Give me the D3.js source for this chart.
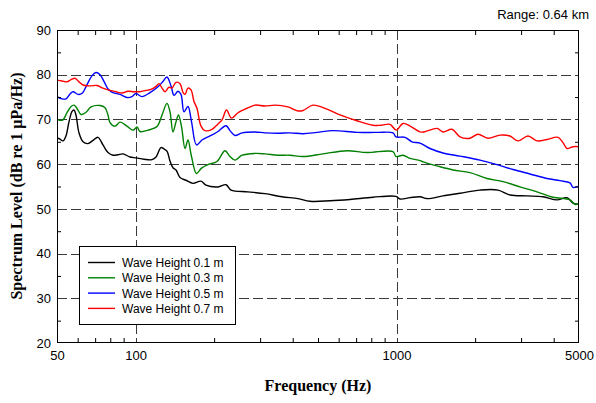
<!DOCTYPE html>
<html>
<head>
<meta charset="utf-8">
<script src="https://cdn.jsdelivr.net/npm/d3@7"></script>
<style>
  body { margin: 0; background: #fff; }
  svg { display: block; }
</style>
</head>
<body>
<svg id="chart" width="596" height="403"></svg>
<script>
// ---------- data ----------
const seriesNames = ["Wave Height 0.1 m", "Wave Height 0.3 m", "Wave Height 0.5 m", "Wave Height 0.7 m"];
const seriesColors = ["#000000", "#008000", "#0000ff", "#ff0000"];

const freq01 = [50,51.3,52.7,54.1,55.6,57.1,58.1,59.1,60.7,62.9,65.7,68.7,71.8,75.0,78.4,81.9,85.6,89.5,95.2,100.4,107.7,115.6,119.8,125.1,128.5,131.9,135.5,139.1,142.9,148.0,156.0,166.0,178.1,186.1,206.9,222.1,232.1,269.6,313.2,363.9,419.2,465.9,555.8,663.1,812.2,995,1031,1126,1230,1308,1506,1750,2088,2447,2720,3160,3639,4118,4498,4742,5000];
const level01 = [65.9,65.6,65.2,66.3,69.5,71.8,72.1,71.0,67.0,65.0,64.6,65.3,66.0,64.3,62.6,62.0,62.1,62.3,61.6,61.4,61.1,61.0,61.6,63.7,63.4,62.9,60.7,59.2,58.7,57.0,56.4,55.7,56.2,55.3,54.9,55.4,54.2,53.8,53.4,52.7,52.3,51.7,51.8,52.1,52.6,52.8,52.2,52.5,52.7,52.3,52.9,53.5,54.2,54.2,53.1,52.9,52.7,52.0,52.5,51.3,51.0];

const freq03 = [50,51.3,52.7,54.6,56.6,58.1,59.6,61.8,64.6,67.5,73.1,76.4,78.4,79.8,83.4,87.2,92.7,97.8,101.3,104.0,111.6,120.8,126.3,131.9,135.5,139.1,142.9,146.0,150.0,154.7,158.8,163.8,171.2,178.9,189.5,205.1,220.1,230.0,240.4,255.7,286.7,313.2,351.4,390.6,438.1,522.4,645.8,770.3,969,995,1058,1126,1230,1263,1429,1645,1911,2221,2557,2971,3452,3975,4618,4827,5000];
const level03 = [70.0,69.8,69.9,71.5,72.9,73.2,72.5,71.1,71.6,72.8,73.1,72.6,71.0,69.3,68.5,69.4,68.5,67.6,68.3,67.3,67.6,68.4,71.0,73.6,71.7,67.2,69.5,71.0,68.4,63.5,65.4,61.7,57.9,59.1,59.9,60.6,63.0,61.7,60.9,62.0,62.4,62.3,62.0,62.0,61.7,62.3,63.0,62.6,62.8,61.7,62.0,61.3,60.8,60.5,59.6,58.7,58.1,56.8,56.1,54.9,53.8,52.6,52.0,51.0,51.2];

const freq05 = [50,52.3,54.1,56.1,57.6,60.2,62.3,65.2,68.1,70.5,73.1,75.7,78.4,81.9,87.2,92.7,96.9,100.4,105.8,113.6,121.9,127.4,131.9,136.7,140.4,145.4,149.3,153.3,158.8,163.8,171.2,179.7,192.8,206.9,222.1,230.0,240.4,255.7,286.7,313.2,351.4,390.6,438.1,495.6,570.8,705.3,841.3,969,995,1077,1146,1230,1343,1506,1750,2088,2426,2793,3244,3770,4228,4618,4742,5000];
const level05 = [75.1,74.6,74.6,75.7,76.2,75.6,75.8,77.8,79.8,80.5,80.0,78.5,76.8,76.0,75.6,74.9,75.1,75.8,75.1,76.0,77.3,78.5,79.5,77.5,75.4,76.3,75.6,71.7,72.9,69.5,64.3,65.4,66.3,67.3,68.6,67.5,66.4,67.0,67.2,67.0,66.9,67.0,66.8,67.1,67.5,67.1,67.1,67.0,66.1,66.0,65.0,64.7,63.5,62.5,61.8,60.9,59.9,58.8,57.8,56.8,56.3,55.8,54.8,55.1];

const freq07 = [50,52.3,54.6,56.6,58.6,60.7,62.9,66.9,71.2,75.0,78.4,84.1,88.7,93.5,98.6,104.0,109.6,114.6,119.8,123.0,126.3,129.6,134.3,137.9,142.9,148.0,152.0,154.7,158.8,163.1,167.4,171.9,178.1,184.5,196.3,206.9,214.4,223.1,233.1,246.9,267.3,286.7,313.2,342.2,383.7,419.2,438.1,478.4,541.3,607.1,705.3,812.2,871.6,943.7,998.3,1058,1136,1230,1274,1429,1506,1631,1750,1911,2051,2240,2491,2720,2919,3188,3452,3770,4154,4342,4498,4742,5000];
const level07 = [78.8,78.6,78.4,78.9,79.2,78.4,77.7,77.5,77.6,77.0,76.6,76.2,75.9,76.3,76.2,76.2,76.5,76.7,77.4,78.0,77.0,76.2,77.2,77.0,78.3,78.0,76.0,75.6,77.0,76.6,74.0,72.5,68.5,67.5,67.8,69.0,69.9,72.1,70.3,71.5,72.5,73.2,73.0,73.2,72.8,71.9,72.0,73.2,72.3,71.0,69.7,68.7,68.7,68.9,67.6,69.1,68.4,67.2,67.2,68.0,67.2,67.8,66.1,65.8,66.7,65.8,66.5,66.3,65.2,66.3,65.2,65.5,66.0,64.8,63.5,63.9,63.9];

const xTickLabels = [50, 100, 1000, 5000];
const xMinorTicks = [60,70,80,90,200,300,400,500,600,700,800,900,2000,3000,4000];
const yTickLabels = [20,30,40,50,60,70,80,90];
const yMinorTicks = [25,35,45,55,65,75,85];
const xGrid = [100, 1000];
const yGrid = [30,40,50,60,70,80];
const rangeLabel = "Range: 0.64 km";
const xTitle = "Frequency (Hz)";
const yTitle = "Spectrum Level (dB re 1 µPa/Hz)";

// ---------- chart ----------
const svg = d3.select("#chart");
const L = 57, R = 579, T = 30, B = 343;
const x = d3.scaleLog().domain([50, 5000]).range([L, R]);
const y = d3.scaleLinear().domain([20, 90]).range([B, T]);
const sans = "Arial, 'Liberation Sans', sans-serif";
const serif = "'Times New Roman', 'Liberation Serif', serif";

const series = [
  {name: seriesNames[0], color: seriesColors[0], f: freq01, v: level01},
  {name: seriesNames[1], color: seriesColors[1], f: freq03, v: level03},
  {name: seriesNames[2], color: seriesColors[2], f: freq05, v: level05},
  {name: seriesNames[3], color: seriesColors[3], f: freq07, v: level07}
];

// grid
svg.append("g").selectAll("line").data(yGrid).join("line")
  .attr("x1", L).attr("x2", R)
  .attr("y1", d => Math.round(y(d)) + 0.5).attr("y2", d => Math.round(y(d)) + 0.5)
  .attr("stroke", "#3a3a3a").attr("stroke-width", 1).attr("stroke-dasharray", "10,4");
svg.append("g").selectAll("line").data(xGrid).join("line")
  .attr("y1", T).attr("y2", B)
  .attr("x1", d => Math.round(x(d)) + 0.5).attr("x2", d => Math.round(x(d)) + 0.5)
  .attr("stroke", "#3a3a3a").attr("stroke-width", 1).attr("stroke-dasharray", "10,4");

// clip
svg.append("defs").append("clipPath").attr("id", "plotclip")
  .append("rect").attr("x", L).attr("y", T).attr("width", R - L).attr("height", B - T);

// lines
const line = d3.line().curve(d3.curveCatmullRom.alpha(0.5));
svg.append("g").attr("clip-path", "url(#plotclip)")
  .selectAll("path").data(series).join("path")
  .attr("d", s => line(s.f.map((f, i) => [x(f), y(s.v[i])])))
  .attr("fill", "none").attr("stroke", s => s.color).attr("stroke-width", 1.4)
  .attr("stroke-linejoin", "round");

// minor ticks (inward)
function styleAxis(g) {
  g.select(".domain").remove();
  g.selectAll(".tick line").attr("stroke", "#000");
  g.selectAll("text").attr("font-family", sans).attr("font-size", 13).attr("fill", "#000");
}
svg.append("g").attr("transform", `translate(0,${B})`)
  .call(d3.axisBottom(x).tickValues(xMinorTicks).tickSize(-5).tickFormat(""))
  .call(styleAxis);
svg.append("g").attr("transform", `translate(0,${T})`)
  .call(d3.axisTop(x).tickValues(xMinorTicks).tickSize(-5).tickFormat(""))
  .call(styleAxis);
svg.append("g").attr("transform", `translate(${L},0)`)
  .call(d3.axisLeft(y).tickValues(yMinorTicks).tickSize(-4).tickFormat(""))
  .call(styleAxis);
svg.append("g").attr("transform", `translate(${R},0)`)
  .call(d3.axisRight(y).tickValues(yMinorTicks).tickSize(-4).tickFormat(""))
  .call(styleAxis);

// tick labels
svg.append("g").attr("transform", `translate(0,${B})`)
  .call(d3.axisBottom(x).tickValues(xTickLabels).tickSize(0).tickPadding(8).tickFormat(d3.format("d")))
  .call(styleAxis);
svg.append("g").attr("transform", `translate(${L},0)`)
  .call(d3.axisLeft(y).tickValues(yTickLabels).tickSize(0).tickPadding(6).tickFormat(d3.format("d")))
  .call(styleAxis);

// frame
svg.append("rect").attr("x", L + 0.5).attr("y", T + 0.5)
  .attr("width", R - L - 1).attr("height", B - T - 1)
  .attr("fill", "none").attr("stroke", "#000").attr("stroke-width", 1);

// titles
svg.append("text").attr("x", 318).attr("y", 391).attr("text-anchor", "middle")
  .attr("font-family", serif).attr("font-weight", "bold").attr("font-size", 16).text(xTitle);
svg.append("text").attr("transform", "translate(22,186) rotate(-90)").attr("text-anchor", "middle")
  .attr("font-family", serif).attr("font-weight", "bold").attr("font-size", 16).text(yTitle);
svg.append("text").attr("x", 589).attr("y", 19).attr("text-anchor", "end")
  .attr("font-family", sans).attr("font-size", 13).text(rangeLabel);

// legend
const lg = svg.append("g");
lg.append("rect").attr("x", 79.5).attr("y", 246.5).attr("width", 156).attr("height", 78)
  .attr("fill", "#fff").attr("stroke", "#000").attr("stroke-width", 1);
const rows = lg.selectAll("g.row").data(series).join("g").attr("class", "row")
  .attr("transform", (d, i) => `translate(0,${262.5 + i * 15.3})`);
rows.append("line").attr("x1", 88).attr("x2", 115).attr("y1", 0).attr("y2", 0)
  .attr("stroke", d => d.color).attr("stroke-width", 1.4);
rows.append("text").attr("x", 122).attr("y", 4.5)
  .attr("font-family", sans).attr("font-size", 12).text(d => d.name);
</script>
</body>
</html>
